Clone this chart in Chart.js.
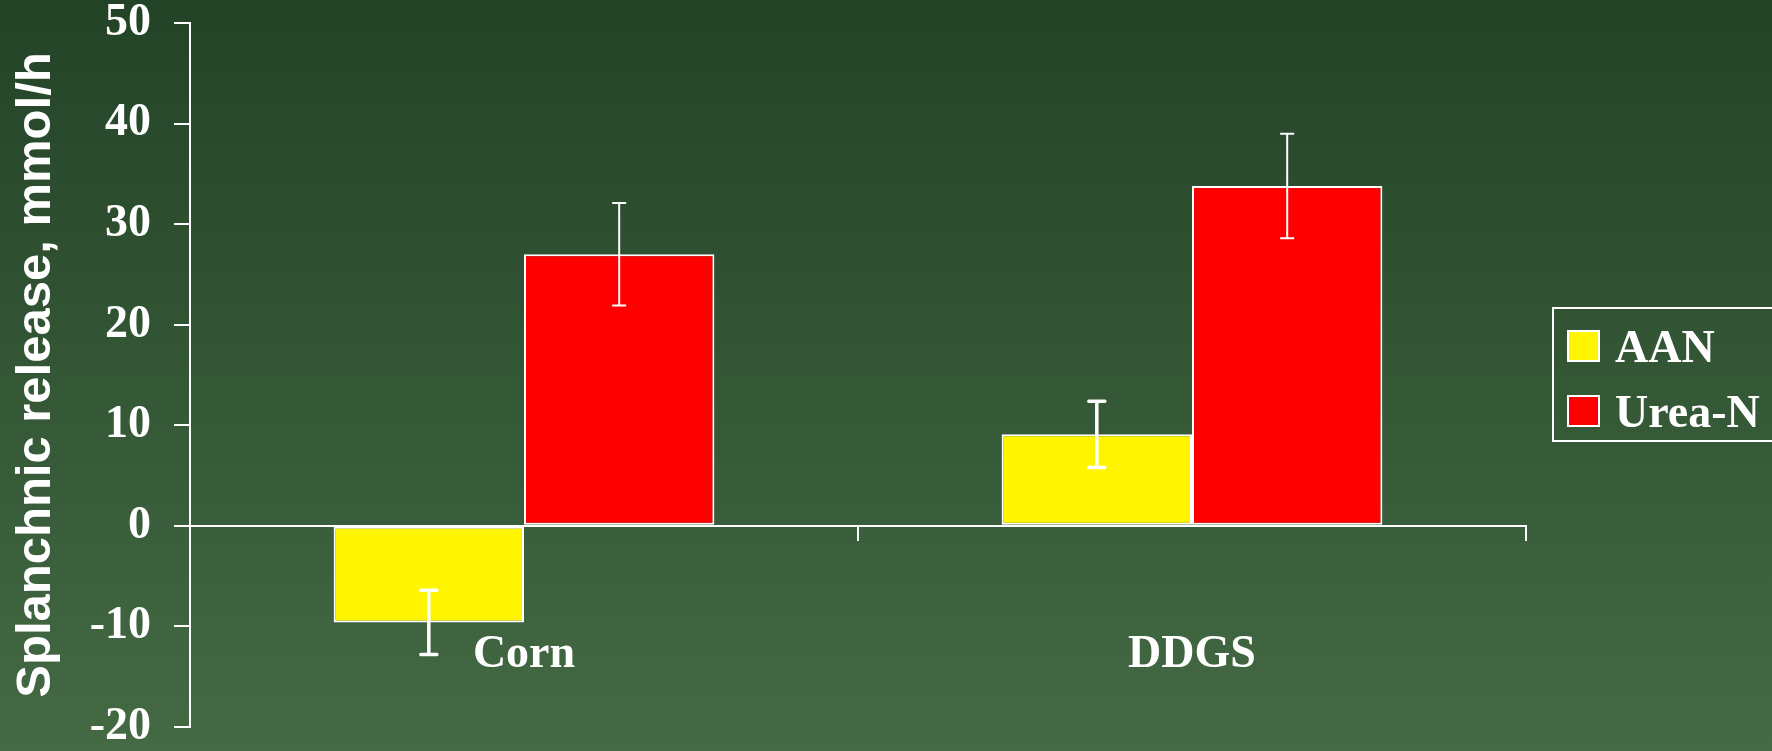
<!DOCTYPE html>
<html>
<head>
<meta charset="utf-8">
<script src="https://cdn.jsdelivr.net/npm/chart.js@4.4.1/dist/chart.umd.min.js"></script>
<style>
  body { margin: 0; background: #2f5233; }
  #wrap { width: 1772px; height: 751px; }
</style>
</head>
<body>
<div id="wrap"><canvas id="myChart" width="1772" height="751"></canvas></div>
<script>
// data block
const categories = ['Corn', 'DDGS'];
const seriesNames = ['AAN', 'Urea-N'];
const aanValues = [-9.6, 9.1];
const ureaValues = [27.0, 33.8];
const aanErrors = [3.2, 3.3];
const ureaErrors = [5.1, 5.2];
const yTicks = [-20, -10, 0, 10, 20, 30, 40, 50];

const serifBold = { family: '"Liberation Serif", "Times New Roman", serif', weight: 'bold' };

// background gradient
const background = {
    id: 'background',
    beforeDraw(chart) {
        const { ctx, width, height } = chart;
        const g = ctx.createLinearGradient(0, 0, 0, height);
        g.addColorStop(0, '#234327');
        g.addColorStop(1, '#446a44');
        ctx.save();
        ctx.fillStyle = g;
        ctx.fillRect(0, 0, width, height);
        ctx.restore();
    }
};

// error bars
const errorBars = {
    id: 'errorBars',
    afterDatasetsDraw(chart) {
        const { ctx, scales: { y } } = chart;
        ctx.save();
        ctx.strokeStyle = '#ffffff';
        chart.data.datasets.forEach((ds, i) => {
            const meta = chart.getDatasetMeta(i);
            ctx.lineWidth = ds.errWidth;
            ctx.lineCap = ds.errWidth > 2 ? 'round' : 'butt';
            meta.data.forEach((bar, j) => {
                const v = ds.data[j];
                const e = ds.errors[j];
                const y1 = y.getPixelForValue(v - e);
                const y2 = y.getPixelForValue(v + e);
                const half = ds.capWidth / 2;
                ctx.beginPath();
                ctx.moveTo(bar.x, y1);
                ctx.lineTo(bar.x, y2);
                ctx.moveTo(bar.x - half, y1);
                ctx.lineTo(bar.x + half, y1);
                ctx.moveTo(bar.x - half, y2);
                ctx.lineTo(bar.x + half, y2);
                ctx.stroke();
            });
        });
        ctx.restore();
    }
};

// boxed legend on the right
const boxLegend = {
    id: 'boxLegend',
    afterDraw(chart) {
        const { ctx } = chart;
        ctx.save();
        ctx.strokeStyle = '#ffffff';
        ctx.lineWidth = 2;
        ctx.strokeRect(1553, 308, 240, 133);
        ctx.font = 'bold 46px "Liberation Serif", "Times New Roman", serif';
        ctx.textBaseline = 'alphabetic';
        ctx.textAlign = 'left';
        chart.data.datasets.forEach((ds, i) => {
            const top = 331 + i * 65;
            ctx.fillStyle = ds.backgroundColor;
            ctx.fillRect(1568, top, 31, 30);
            ctx.strokeRect(1568, top, 31, 30);
            ctx.fillStyle = '#ffffff';
            ctx.fillText(ds.label, 1615, top + 31);
        });
        ctx.restore();
    }
};

const config = {
    type: 'bar',
    data: {
        labels: categories,
        datasets: [{
            label: seriesNames[0],
            data: aanValues,
            errors: aanErrors,
            errWidth: 3.5,
            capWidth: 16,
            backgroundColor: 'rgb(255, 245, 0)',
            borderColor: '#ffffff',
            borderWidth: 2,
            borderSkipped: false
        }, {
            label: seriesNames[1],
            data: ureaValues,
            errors: ureaErrors,
            errWidth: 2,
            capWidth: 14,
            backgroundColor: 'rgb(255, 0, 0)',
            borderColor: '#ffffff',
            borderWidth: 2,
            borderSkipped: false
        }]
    },
    options: {
        responsive: false,
        animation: false,
        devicePixelRatio: 1,
        categoryPercentage: 0.57,
        barPercentage: 1,
        layout: {
            padding: { top: 23, right: 246, bottom: 24, left: 0 }
        },
        scales: {
            x: {
                position: { y: 0 },
                offset: true,
                grid: {
                    offset: true,
                    drawOnChartArea: false,
                    drawTicks: true,
                    tickLength: 14,
                    color: '#ffffff',
                    lineWidth: 2
                },
                border: { color: '#ffffff', width: 2 },
                ticks: {
                    color: '#ffffff',
                    padding: 95,
                    font: { ...serifBold, size: 46, lineHeight: 0.9 }
                }
            },
            y: {
                min: -20,
                max: 50,
                afterFit(scale) {
                    scale.width = 190;
                    scale.paddingTop = 0;
                    scale.paddingBottom = 0;
                },
                afterBuildTicks(scale) { scale.ticks = yTicks.map(v => ({ value: v })); },
                grid: {
                    drawOnChartArea: false,
                    drawTicks: true,
                    tickLength: 16,
                    color: '#ffffff',
                    lineWidth: 2
                },
                border: { color: '#ffffff', width: 2 },
                ticks: {
                    color: '#ffffff',
                    padding: 23,
                    font: { ...serifBold, size: 46, lineHeight: 0.9 }
                },
                title: {
                    display: true,
                    text: 'Splanchnic release, mmol/h',
                    color: '#ffffff',
                    padding: { top: 7, bottom: 4 },
                    font: { family: '"Liberation Sans", Arial, sans-serif', weight: 'bold', size: 49 }
                }
            }
        },
        plugins: {
            legend: { display: false },
            tooltip: { enabled: false }
        }
    },
    plugins: [background, errorBars, boxLegend]
};

const myChart = new Chart(document.getElementById('myChart'), config);
</script>
</body>
</html>
